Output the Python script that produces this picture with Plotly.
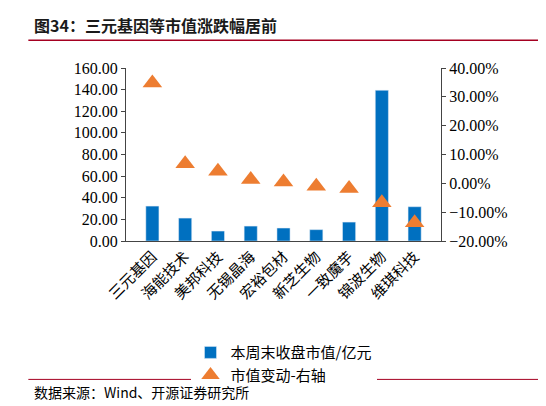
import plotly.graph_objects as go

companies = ['三元基因', '海能技术', '美邦科技', '无锡晶海', '宏裕包材', '新芝生物', '一致魔芋', '锦波生物', '维琪科技']
mkt_cap = [32.3, 21.2, 9.2, 13.8, 12.0, 10.5, 17.5, 139.4, 31.7]
chg_pct = [34.8, 6.8, 4.2, 1.3, 0.5, -1.0, -1.8, -6.7, -13.7]

font = "Times New Roman, Liberation Serif, Noto Sans CJK SC"

fig = go.Figure()
fig.add_trace(go.Bar(name='本周末收盘市值/亿元', x=companies, y=mkt_cap,
                     marker_color='#0070C0', width=0.4))
fig.add_trace(go.Scatter(name='市值变动-右轴', x=companies, y=chg_pct, yaxis='y2',
                         mode='markers', marker=dict(symbol='triangle-up', size=17, color='#ED7D31')))

fig.update_layout(
    width=546, height=406, plot_bgcolor='white', paper_bgcolor='white',
    font=dict(family=font, size=16, color='black'),
    margin=dict(l=118, r=113, t=60, b=173),
    bargap=0.6,
    xaxis=dict(showline=True, linecolor='#444', tickangle=-45, ticks='', automargin=False,
               tickfont=dict(family="Noto Sans CJK SC", size=15)),
    yaxis=dict(range=[0, 160], dtick=20, tickformat='.2f', showline=True, linecolor='#444',
               ticks='outside', ticklen=4, showgrid=False, zeroline=False, automargin=False),
    yaxis2=dict(range=[-20, 40], dtick=10, tickformat='.2f', ticksuffix='%', overlaying='y',
                side='right', showline=True, linecolor='#444', ticks='outside', ticklen=4,
                showgrid=False, zeroline=False, automargin=False),
    legend=dict(orientation='h', x=0.5, xanchor='center', y=-0.55, yanchor='top',
                font=dict(family="Noto Sans CJK SC", size=15)),
    showlegend=True,
)
fig.add_annotation(text='<b>图34：三元基因等市值涨跌幅居前</b>', xref='paper', yref='paper',
                   x=-0.30, xanchor='left', y=1.25, yanchor='middle', showarrow=False,
                   font=dict(family="Noto Sans CJK SC", size=16, color='#1a1a1a'))
fig.add_shape(type='line', xref='paper', yref='paper', x0=-0.31, x1=1.38, y0=1.16, y1=1.16,
              line=dict(color='#A50021', width=1.5))
fig.add_annotation(text='数据来源：Wind、开源证券研究所', xref='paper', yref='paper',
                   x=-0.30, xanchor='left', y=-0.87, yanchor='middle', showarrow=False,
                   font=dict(family="Noto Sans CJK SC", size=14))
fig.add_shape(type='line', xref='paper', yref='paper', x0=-0.31, x1=1.38, y0=-0.80, y1=-0.80,
              line=dict(color='#A50021', width=1))

fig.write_html("out.html")
